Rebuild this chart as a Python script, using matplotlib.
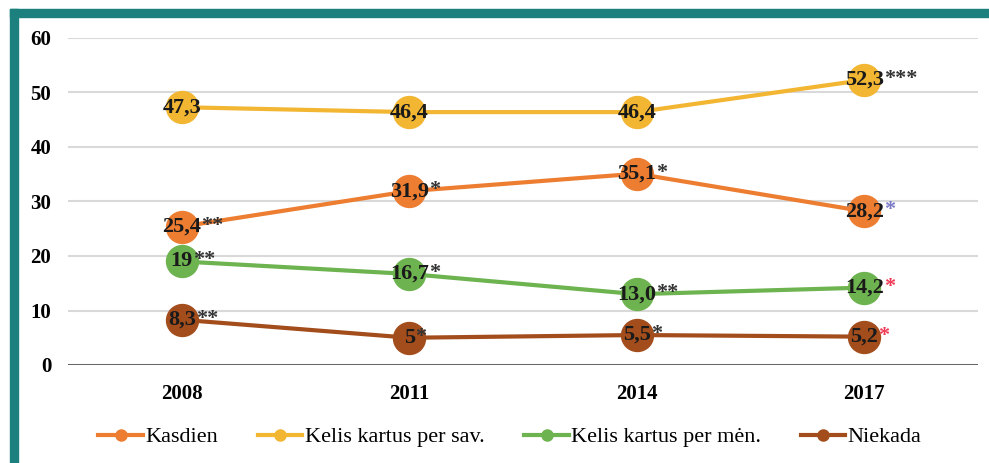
import matplotlib.pyplot as plt
from matplotlib.patches import Rectangle
from matplotlib.lines import Line2D

# data
years = ["2008", "2011", "2014", "2017"]
kasdien = [25.4, 31.9, 35.1, 28.2]
per_sav = [47.3, 46.4, 46.4, 52.3]
per_men = [19.0, 16.7, 13.0, 14.2]
niekada = [8.3, 5.0, 5.5, 5.2]

kasdien_lbl = ["25,4", "31,9", "35,1", "28,2"]
per_sav_lbl = ["47,3", "46,4", "46,4", "52,3"]
per_men_lbl = ["19", "16,7", "13,0", "14,2"]
niekada_lbl = ["8,3", "5", "5,5", "5,2"]

kasdien_star = ["**", "*", "*", "*"]
per_sav_star = ["", "", "", "***"]
per_men_star = ["**", "*", "**", "*"]
niekada_star = ["**", "*", "*", "*"]

series_names = ["Kasdien", "Kelis kartus per sav.", "Kelis kartus per mėn.", "Niekada"]
colors = ["#ED7D31", "#F2B632", "#6DB34F", "#A34D1C"]

plt.rcParams['font.family'] = ['Liberation Serif', 'DejaVu Serif']

fig = plt.figure(figsize=(9.89, 4.63), dpi=100)
W, H = 989, 463
ax = fig.add_axes([68 / W, 1 - 365 / H, (978 - 68) / W, (365 - 38) / H])

x = list(range(len(years)))
all_vals = [kasdien, per_sav, per_men, niekada]
all_lbls = [kasdien_lbl, per_sav_lbl, per_men_lbl, niekada_lbl]
all_stars = [kasdien_star, per_sav_star, per_men_star, niekada_star]

for vals, col, name in zip(all_vals, colors, series_names):
    ax.plot(x, vals, color=col, lw=3, marker='o', markersize=23, label=name, zorder=3)

# star colours: the last point of some series uses a coloured star
star_cols = {(0, 3): "#7A7AC8", (2, 3): "#F03A55", (3, 3): "#F03A55"}

for s, (vals, lbls, stars) in enumerate(zip(all_vals, all_lbls, all_stars)):
    for i in range(len(vals)):
        t = ax.text(i, vals[i], lbls[i], ha='center', va='center', fontsize=16,
                    fontweight='bold', color='#1a1a1a', zorder=5)
        if stars[i]:
            ax.annotate(stars[i], xy=(1, 0.55), xycoords=t, ha='left', va='center',
                        fontsize=16, fontweight='bold',
                        color=star_cols.get((s, i), '#333333'), zorder=5)

ax.set_xlim(-0.5, 3.5)
ax.set_ylim(0, 60)
ax.set_yticks(range(0, 61, 10))
ax.set_xticks(x)
ax.set_xticklabels(years)
ax.grid(axis='y', color='#d9d9d9', lw=1.5)
ax.set_axisbelow(True)
for sp in ax.spines.values():
    sp.set_visible(False)
ax.axhline(0, color='#595959', lw=2, zorder=2)
ax.tick_params(length=0, labelsize=15, pad=12)
ax.tick_params(axis='x', pad=14)
for lab in ax.get_xticklabels() + ax.get_yticklabels():
    lab.set_fontweight('bold')

handles = [Line2D([0], [0], color=c, lw=3, marker='o', markersize=8) for c in colors]
fig.legend(handles, series_names, loc='center', bbox_to_anchor=(510 / W, 1 - 437 / H),
           ncol=4, frameon=False, fontsize=16, handlelength=2.0, handletextpad=0.1,
           columnspacing=1.8)

# teal frame on top and left
teal = "#1B807E"
fig.patches.append(Rectangle((10 / W, 0), 8 / W, 1 - 9 / H, transform=fig.transFigure,
                             color=teal, zorder=10))
fig.patches.append(Rectangle((10 / W, 1 - 17 / H), 1 - 10 / W, 8 / H,
                             transform=fig.transFigure, color=teal, zorder=10))

fig.savefig("out.png", dpi=100)
